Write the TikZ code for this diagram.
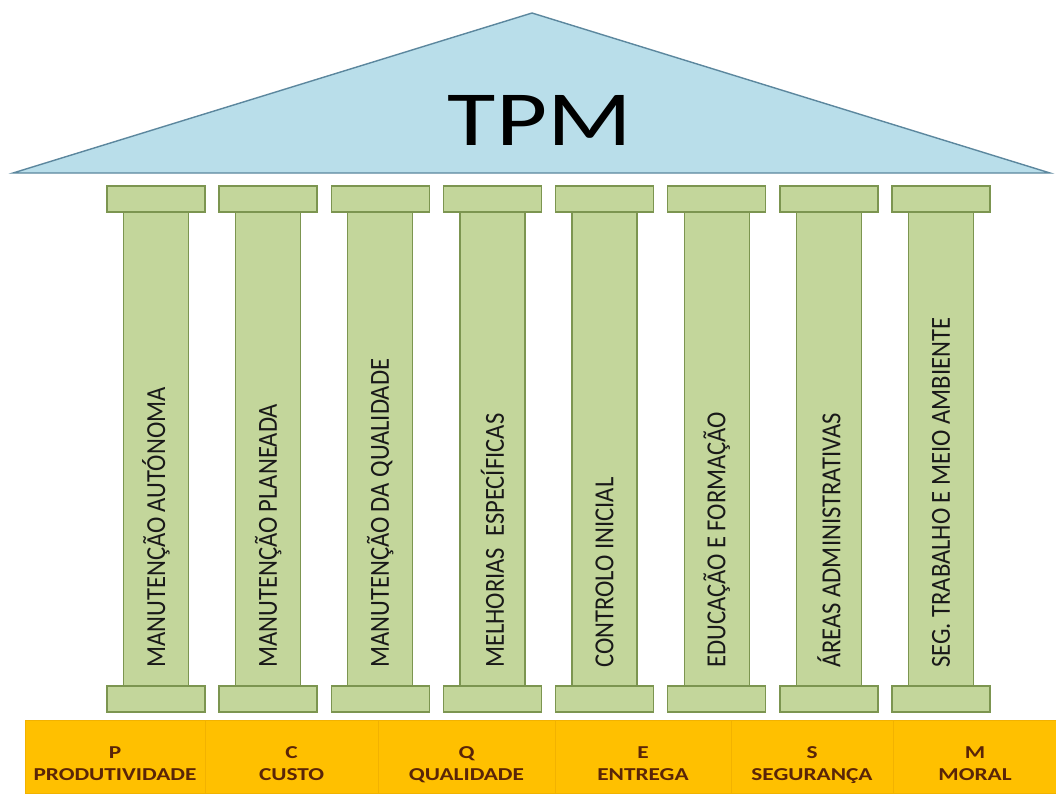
\documentclass[tikz,border=0pt]{standalone}
\usepackage{fontspec}
\setmainfont{Carlito}
\usepackage{graphicx}
\definecolor{roofFill}{HTML}{B9DEEA}
\definecolor{roofLine}{HTML}{5C879E}
\definecolor{colFill}{HTML}{C3D69B}
\definecolor{colLine}{HTML}{7C9550}
\definecolor{barFill}{HTML}{FFC000}
\definecolor{barLine}{HTML}{F2B200}
\definecolor{barText}{HTML}{5A2508}
\tikzset{
  roof/.style={fill=roofFill, draw=roofLine, line width=1.4pt, line join=miter},
  capbox/.style={fill=colFill, draw=colLine, line width=1.3pt, minimum width=98pt, minimum height=26pt, inner sep=0pt},
  shaftbox/.style={fill=colFill, draw=colLine, line width=1.3pt, minimum width=65pt, minimum height=474pt, inner sep=0pt},
  collabel/.style={rotate=90, anchor=west, inner sep=0pt, font=\fontsize{24.6}{28}\selectfont, text=black!90},
  cellbox/.style={fill=barFill, draw=barLine, line width=0.8pt, minimum height=73pt, inner sep=0pt, anchor=north west},
  celltext/.style={anchor=base, inner sep=0pt, font=\fontsize{18.2}{22}\selectfont\bfseries, text=barText},
}
\begin{document}
\begin{tikzpicture}[x=1pt, y=-1pt]
\useasboundingbox (0,0) rectangle (1056,793);
\fill[white] (0,0) rectangle (1056,793);

% roof
\coordinate (roofL) at (13,173);
\coordinate (roofT) at (532,13);
\coordinate (roofR) at (1050,173);
\draw[roof] (roofL) -- (roofT) -- (roofR) -- cycle;
\node[anchor=base, inner sep=0pt, font=\fontsize{78}{90}\selectfont] (tpm) at (540,145) {\scalebox{1.27}[1]{TPM}};

% pillars
\foreach \i/\t in {0/MANUTENÇÃO AUTÓNOMA, 1/MANUTENÇÃO PLANEADA, 2/MANUTENÇÃO DA QUALIDADE, 3/MELHORIAS\ \ ESPECÍFICAS, 4/CONTROLO INICIAL, 5/EDUCAÇÃO E FORMAÇÃO, 6/ÁREAS ADMINISTRATIVAS, 7/SEG. TRABALHO E MEIO AMBIENTE}{
  \pgfmathsetmacro{\cx}{156+\i*112.14}
  \node[shaftbox] (shaft\i) at (\cx,449) {};
  \node[capbox] (top\i) at (\cx,199) {};
  \node[capbox] (base\i) at (\cx,699) {};
  \node[collabel] (label\i) at (\cx,668) {\scalebox{1}[1.12]{\t}};
}

% foundation bar
\foreach \i/\xa/\xb/\ltr/\wrd in {0/25/205/P/PRODUTIVIDADE, 1/205/378/C/CUSTO, 2/378/555/Q/QUALIDADE, 3/555/731/E/ENTREGA, 4/731/893/S/SEGURANÇA, 5/893/1057/M/MORAL}{
  \pgfmathsetmacro{\w}{\xb-\xa}
  \pgfmathsetmacro{\mx}{(\xa+\xb)/2}
  \node[cellbox, minimum width=\w pt] (cell\i) at (\xa,720) {};
  \node[celltext] (letter\i) at (\mx,758) {\scalebox{1.28}[1]{\ltr}};
  \node[celltext] (word\i) at (\mx,780) {\scalebox{1.28}[1]{\wrd}};
}
\end{tikzpicture}
\end{document}
